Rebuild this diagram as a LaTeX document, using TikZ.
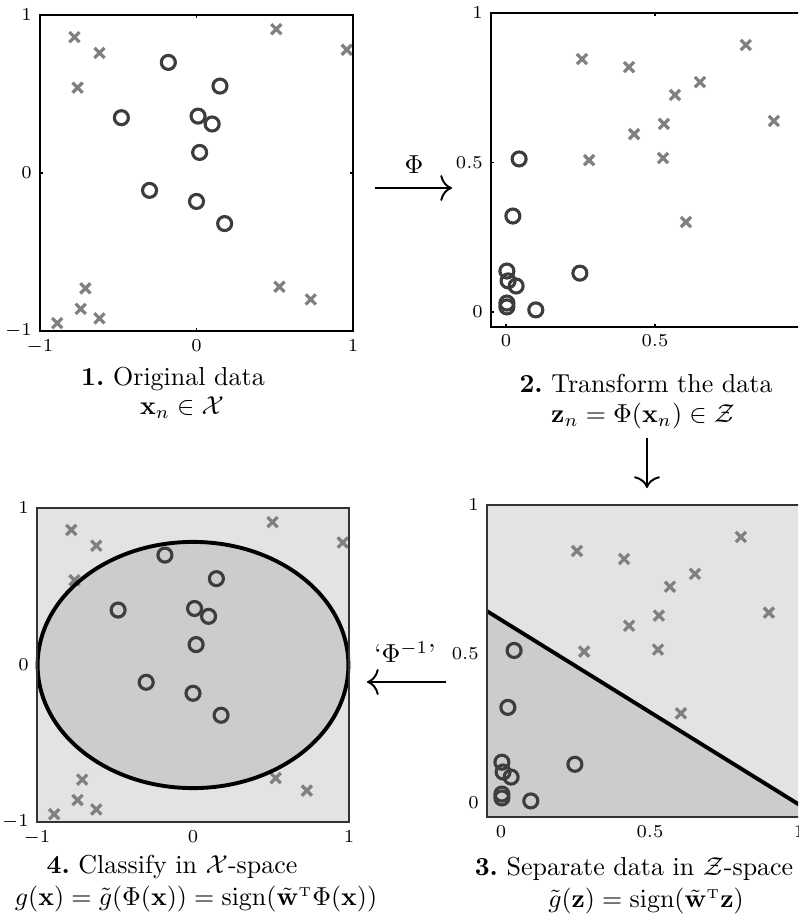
\documentclass[tikz,border=0pt]{standalone}
\usepackage{amsmath}
\usetikzlibrary{arrows.meta}
\begin{document}
\begin{tikzpicture}[x=0.385pt,y=-0.385pt,
  circ/.style={draw=black!76, line width=1.2pt},
  crs/.style={draw=black!50, line width=1.25pt},
  frame/.style={draw=black, line width=0.8pt},
  thinframe/.style={draw=black!80, line width=0.45pt},
  tickmark/.style={draw=black, line width=0.6pt},
  tl/.style={font=\fontsize{7.5}{9}\selectfont, inner sep=1pt},
  captxt/.style={font=\fontsize{10}{12}\selectfont, inner sep=0pt},
  arr/.style={line width=0.75pt, -{Computer Modern Rightarrow[length=4.5pt,width=10pt]}},
  lightfill/.style={fill=black!11},
  darkfill/.style={fill=black!20},
  sepline/.style={draw=black, line width=1.5pt}]
\useasboundingbox (0,0) rectangle (798,920);
\clip (0,0) rectangle (798,920);

\def\crosslist{-0.78/0.86, -0.62/0.76, -0.76/0.54, 0.51/0.91, 0.96/0.78, -0.71/-0.73, -0.74/-0.86, -0.89/-0.95, -0.62/-0.92, 0.53/-0.72, 0.73/-0.80}
\def\circlist{-0.18/0.70, 0.15/0.55, -0.48/0.35, 0.01/0.36, 0.10/0.31, 0.02/0.13, -0.30/-0.11, 0.0/-0.18, 0.18/-0.32}
\def\zcrosslist{0.255/0.846, 0.413/0.819, 0.651/0.769, 0.567/0.726, 0.805/0.893, 0.899/0.639, 0.530/0.629, 0.430/0.595, 0.279/0.508, 0.527/0.515, 0.604/0.301}
\def\zcirclist{0.044/0.512, 0.023/0.321, 0.003/0.137, 0.007/0.104, 0.034/0.087, 0.003/0.030, 0.003/0.017, 0.10/0.007, 0.248/0.130}
\def\xs{1.95pt}

% ---------- Panel 1 ----------
\begin{scope}[shift={(196.5,173)}, x=60.25pt, y=60.83pt]
  \foreach \a/\b in \crosslist
    \draw[crs] ([shift={(-\xs,-\xs)}]\a,\b) -- ([shift={(\xs,\xs)}]\a,\b)
               ([shift={(-\xs,\xs)}]\a,\b) -- ([shift={(\xs,-\xs)}]\a,\b);
  \foreach \a/\b in \circlist
    \draw[circ] (\a,\b) circle[radius=2.7pt];
  \draw[frame] (-1,-1) rectangle (1,1);
  \draw[tickmark] (0,-1) -- ++(0,1.2pt) (0,1) -- ++(0,-1.2pt) (-1,0) -- ++(1.2pt,0) (1,0) -- ++(-1.2pt,0);
  \node[tl, anchor=east] (p1y1) at ([xshift=-2pt]-1,1) {$1$};
  \node[tl, anchor=east] (p1y0) at ([xshift=-2pt]-1,0) {$0$};
  \node[tl, anchor=east] (p1ym) at ([xshift=-2pt]-1,-1) {$-1$};
  \node[tl, anchor=north] (p1xm) at ([yshift=-2pt]-1,-1) {$-1$};
  \node[tl, anchor=north] (p1x0) at ([yshift=-2pt]0,-1) {$0$};
  \node[tl, anchor=north] (p1x1) at ([yshift=-2pt]1,-1) {$1$};
\end{scope}

% ---------- Panel 2 ----------
\begin{scope}[shift={(506,312)}, x=114.7pt, y=115.1pt]
  \foreach \a/\b in \zcrosslist
    \draw[crs] ([shift={(-\xs,-\xs)}]\a,\b) -- ([shift={(\xs,\xs)}]\a,\b)
               ([shift={(-\xs,\xs)}]\a,\b) -- ([shift={(\xs,-\xs)}]\a,\b);
  \foreach \a/\b in \zcirclist
    \draw[circ] (\a,\b) circle[radius=2.7pt];
  \draw[frame] (-0.05,-0.05) rectangle (1,1);
  \draw[tickmark] (0,-0.05) -- ++(0,1.2pt) (0.5,-0.05) -- ++(0,1.2pt) (0.5,1) -- ++(0,-1.2pt)
              (-0.05,0) -- ++(1.2pt,0) (-0.05,0.5) -- ++(1.2pt,0);
  \node[tl, anchor=east] (p2y1) at ([xshift=-2pt]-0.05,1) {$1$};
  \node[tl, anchor=east] (p2y5) at ([xshift=-2pt]-0.05,0.5) {$0.5$};
  \node[tl, anchor=east] (p2y0) at ([xshift=-2pt]-0.05,0) {$0$};
  \node[tl, anchor=north] (p2x0) at ([yshift=-2pt]0,-0.05) {$0$};
  \node[tl, anchor=north] (p2x5) at ([yshift=-2pt]0.5,-0.05) {$0.5$};
\end{scope}

% ---------- Panel 3 ----------
\begin{scope}[shift={(501,803)}, x=114.7pt, y=114.7pt]
  \fill[lightfill] (-0.047,-0.047) rectangle (1.05,1);
  \fill[darkfill] (-0.047,-0.047) -- (-0.047,0.644) -- (1.05,-0.036) -- (1.05,-0.047) -- cycle;
  \foreach \a/\b in \zcrosslist
    \draw[crs] ([shift={(-\xs,-\xs)}]\a,\b) -- ([shift={(\xs,\xs)}]\a,\b)
               ([shift={(-\xs,\xs)}]\a,\b) -- ([shift={(\xs,-\xs)}]\a,\b);
  \foreach \a/\b in \zcirclist
    \draw[circ] (\a,\b) circle[radius=2.7pt];
  \coordinate (s1) at (-0.047,0.644);
  \coordinate (s2) at (1.05,-0.036);
  \draw[sepline] (s1) -- (s2);
  \draw[thinframe] (-0.047,-0.047) rectangle (1.05,1);
  \node[tl, anchor=east] (p3y1) at ([xshift=-2pt]-0.047,1) {$1$};
  \node[tl, anchor=east] (p3y5) at ([xshift=-2pt]-0.047,0.5) {$0.5$};
  \node[tl, anchor=east] (p3y0) at ([xshift=-2pt]-0.047,0) {$0$};
  \node[tl, anchor=north] (p3x0) at ([yshift=-2pt]0,-0.047) {$0$};
  \node[tl, anchor=north] (p3x5) at ([yshift=-2pt]0.5,-0.047) {$0.5$};
  \node[tl, anchor=north] (p3x1) at ([yshift=-2pt]1,-0.047) {$1$};
\end{scope}

% ---------- Panel 4 ----------
\begin{scope}[shift={(193,665)}, x=60.06pt, y=60.45pt]
  \fill[lightfill] (-1,-1) rectangle (1,1);
  \fill[darkfill] (0,0) ellipse[x radius=0.996, y radius=0.784];
  \foreach \a/\b in \crosslist
    \draw[crs] ([shift={(-\xs,-\xs)}]\a,\b) -- ([shift={(\xs,\xs)}]\a,\b)
               ([shift={(-\xs,\xs)}]\a,\b) -- ([shift={(\xs,-\xs)}]\a,\b);
  \foreach \a/\b in \circlist
    \draw[circ] (\a,\b) circle[radius=2.7pt];
  \draw[sepline] (0,0) ellipse[x radius=0.996, y radius=0.784];
  \draw[thinframe] (-1,-1) rectangle (1,1);
  \node[tl, anchor=east] (p4y1) at ([xshift=-2pt]-1,1) {$1$};
  \node[tl, anchor=east] (p4y0) at ([xshift=-2pt]-1,0) {$0$};
  \node[tl, anchor=east] (p4ym) at ([xshift=-2pt]-1,-1) {$-1$};
  \node[tl, anchor=north] (p4xm) at ([yshift=-2pt]-1,-1) {$-1$};
  \node[tl, anchor=north] (p4x0) at ([yshift=-2pt]0,-1) {$0$};
  \node[tl, anchor=north] (p4x1) at ([yshift=-2pt]1,-1) {$1$};
\end{scope}

% ---------- Arrows ----------
\coordinate (a1s) at (375,188);
\coordinate (a1e) at (452,188);
\draw[arr] (a1s) -- (a1e);
\node[captxt] (phi) at (414,165) {$\Phi$};

\coordinate (a2s) at (647,438);
\coordinate (a2e) at (647,488);
\draw[arr] (a2s) -- (a2e);

\coordinate (a3s) at (446,682);
\coordinate (a3e) at (367,682);
\draw[arr] (a3s) -- (a3e);
\node[captxt] (phiinv) at (405,652) {‘$\Phi^{-1}$’};

% ---------- Captions ----------
\node[captxt] (c1a) at (173,379) {\textbf{1.}~Original data};
\node[captxt] (c1b) at (182,408) {$\mathbf{x}_n\in\mathcal{X}$};
\node[captxt] (c2a) at (646,383) {\textbf{2.}~Transform the data};
\node[captxt] (c2b) at (643,416) {$\mathbf{z}_n=\Phi(\mathbf{x}_n)\in\mathcal{Z}$};
\node[captxt] (c4a) at (172,867) {\textbf{4.}~Classify in $\mathcal{X}$-space};
\node[captxt] (c4b) at (196,899) {$g(\mathbf{x})=\tilde g(\Phi(\mathbf{x}))=\mathrm{sign}(\tilde{\mathbf{w}}^{\scriptscriptstyle\mathrm{T}}\Phi(\mathbf{x}))$};
\node[captxt] (c3a) at (634,869) {\textbf{3.}~Separate data in $\mathcal{Z}$-space};
\node[captxt] (c3b) at (646,901) {$\tilde g(\mathbf{z})=\mathrm{sign}(\tilde{\mathbf{w}}^{\scriptscriptstyle\mathrm{T}}\mathbf{z})$};
\end{tikzpicture}
\end{document}
